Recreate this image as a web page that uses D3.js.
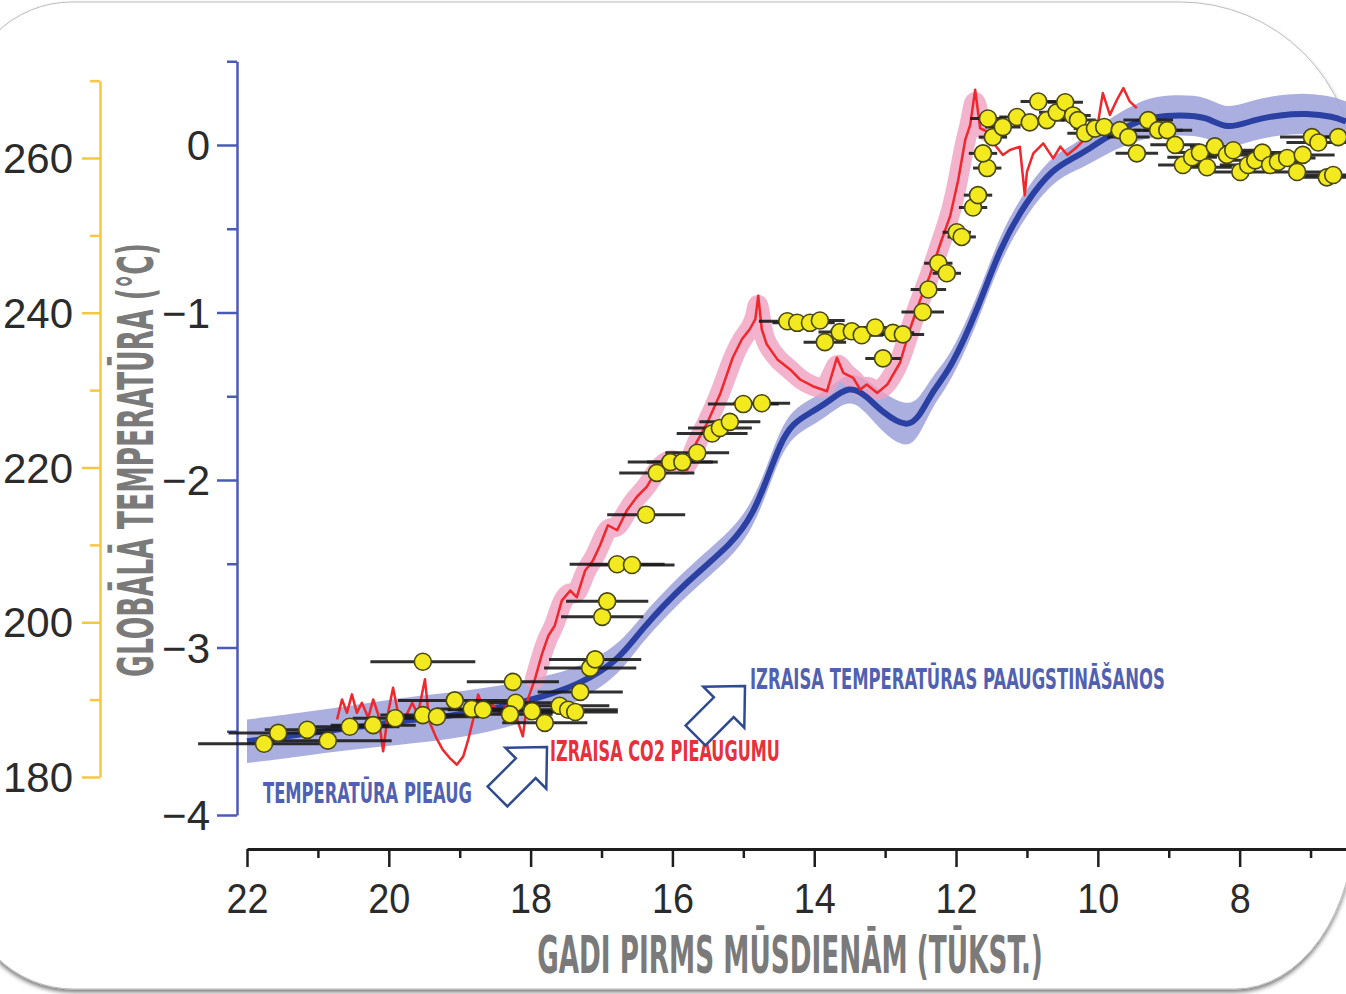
<!DOCTYPE html>
<html><head><meta charset="utf-8">
<script src="https://cdn.jsdelivr.net/npm/d3@7"></script>
<style>html,body{margin:0;padding:0;background:#fff;overflow:hidden}</style>
</head><body><svg id="c" width="1346" height="994"></svg>
<script>
// ---- DATA ----
// Global temperature stack (blue), thousands of years before present, °C, 1-sigma band
const blueAge = [22.0,21.25,20.55,19.84,19.14,18.43,17.87,17.30,16.74,16.46,15.79,15.15,14.86,14.67,14.48,14.30,14.06,13.82,13.50,13.26,13.03,12.69,12.51,12.32,12.08,11.70,11.38,11.0,10.63,10.35,10.15,9.87,9.50,9.22,8.84,8.46,8.18,7.81,7.43,7.05,6.68,6.50];
const blueTemp = [-3.56,-3.52,-3.48,-3.44,-3.41,-3.36,-3.30,-3.22,-3.07,-2.90,-2.60,-2.38,-2.20,-2.00,-1.78,-1.66,-1.60,-1.54,-1.43,-1.50,-1.60,-1.69,-1.62,-1.46,-1.34,-0.99,-0.61,-0.33,-0.14,-0.08,-0.03,0.05,0.13,0.17,0.18,0.17,0.09,0.15,0.18,0.19,0.17,0.14];
const blueSigma = [0.13,0.13,0.13,0.14,0.14,0.13,0.12,0.10,0.09,0.08,0.08,0.08,0.08,0.08,0.08,0.08,0.08,0.08,0.08,0.10,0.12,0.13,0.11,0.09,0.08,0.08,0.08,0.08,0.08,0.08,0.09,0.10,0.11,0.12,0.12,0.12,0.12,0.12,0.12,0.12,0.12,0.12];

// Antarctic temperature (red)
const redAge = [20.73,20.66,20.59,20.52,20.45,20.38,20.29,20.22,20.15,20.08,20.01,19.94,19.87,19.77,19.67,19.59,19.49,19.43,19.33,19.24,19.14,19.04,18.95,18.88,18.81,18.74,18.64,18.54,18.43,18.32,18.22,18.11,18.04,17.94,17.84,17.75,17.66,17.56,17.44,17.35,17.23,17.12,17.02,16.91,16.78,16.64,16.50,16.36,16.22,16.08,15.94,15.79,15.68,15.51,15.33,15.15,15.02,14.91,14.83,14.79,14.74,14.67,14.52,14.34,14.20,14.02,13.82,13.68,13.59,13.45,13.35,13.26,13.11,12.97,12.79,12.65,12.51,12.37,12.23,12.08,11.97,11.87,11.80,11.73,11.66,11.56,11.45,11.34,11.24,11.10,11.03,11.00,10.91,10.77,10.63,10.53,10.43,10.29,10.15,10.01,9.93,9.83,9.73,9.64,9.55,9.45];
const redTemp = [-3.43,-3.31,-3.39,-3.28,-3.39,-3.33,-3.42,-3.31,-3.40,-3.62,-3.39,-3.24,-3.39,-3.42,-3.33,-3.40,-3.19,-3.44,-3.54,-3.61,-3.66,-3.70,-3.65,-3.55,-3.43,-3.28,-3.39,-3.34,-3.39,-3.34,-3.39,-3.53,-3.31,-3.19,-3.04,-2.93,-2.87,-2.72,-2.66,-2.70,-2.54,-2.48,-2.39,-2.27,-2.30,-2.18,-2.10,-2.04,-1.94,-1.88,-1.88,-1.94,-1.79,-1.66,-1.49,-1.27,-1.16,-1.10,-1.04,-0.90,-1.10,-1.19,-1.28,-1.34,-1.40,-1.44,-1.47,-1.27,-1.36,-1.39,-1.46,-1.43,-1.48,-1.43,-1.30,-1.10,-0.93,-0.78,-0.60,-0.42,-0.21,0.03,0.12,0.33,0.10,0.08,0.00,-0.06,-0.03,-0.01,-0.30,-0.16,-0.05,0.01,-0.08,-0.01,-0.06,-0.01,0.05,0.10,0.31,0.18,0.27,0.34,0.26,0.22];

// CO2 (yellow dots), ppm, with age uncertainty (kyr)
const co2Age = [21.76,21.56,21.15,20.86,20.55,20.22,19.91,19.52,19.52,19.32,19.07,18.83,18.67,18.25,18.21,18.29,17.98,17.80,17.59,17.47,17.37,17.30,17.16,17.09,
16.99,16.92,16.78,16.57,16.37,16.22,16.03,15.86,15.65,15.44,15.33,15.19,15.00,14.74,
14.38,14.24,14.06,13.92,13.85,13.64,13.47,13.33,13.14,12.89,12.75,13.03,
12.47,12.39,12.25,12.13,11.99,11.92,11.76,11.69,11.56,11.62,11.48,11.55,11.34,11.14,10.96,10.84,10.72,10.58,10.46,10.35,10.28,10.18,10.04,9.91,9.69,9.57,9.45,9.29,9.15,9.02,8.91,8.80,8.67,8.56,8.46,8.35,8.18,8.09,7.99,7.88,7.78,7.68,7.57,7.46,7.33,7.19,7.11,6.98,6.89,6.77,6.68,6.61];
const co2Val = [184.3,185.7,186.1,184.7,186.5,186.7,187.6,194.9,188.0,187.8,189.9,188.8,188.7,192.3,189.6,188.1,188.5,187.0,189.2,188.7,188.4,191.0,194.1,195.2,
200.7,202.7,207.5,207.4,213.9,219.3,220.7,220.7,221.9,224.4,225.1,225.9,228.2,228.3,
238.9,238.7,238.7,239.0,236.2,237.5,237.6,237.1,238.1,237.4,237.2,234.1,
240.1,243.0,246.4,245.1,250.4,249.8,253.6,255.2,258.7,260.6,262.7,265.1,264.0,265.3,264.6,267.3,264.9,265.9,267.2,265.5,264.9,263.2,263.8,264.0,263.6,262.7,260.6,264.9,263.6,263.6,261.7,259.1,260.1,260.7,258.8,261.5,260.4,261.0,258.2,259.1,259.7,260.7,259.1,259.5,260.0,258.2,260.4,262.7,262.0,257.5,257.8,262.7];
const co2Err = [0.93,0.7,0.6,0.9,0.7,0.6,0.6,0.74,0.6,0.6,0.8,0.5,0.5,0.65,0.6,0.6,0.6,0.6,0.7,0.7,0.6,0.6,0.65,0.65,
0.58,0.58,0.67,0.6,0.55,0.53,0.6,0.5,0.45,0.5,0.45,0.43,0.5,0.4,
0.4,0.35,0.35,0.35,0.3,0.3,0.3,0.3,0.3,0.3,0.3,0.25,
0.3,0.25,0.2,0.2,0.2,0.2,0.2,0.2,0.2,0.2,0.2,0.25,0.25,0.25,0.25,0.25,0.25,0.25,0.25,0.25,0.25,0.25,0.3,0.3,0.3,0.3,0.3,0.35,0.35,0.35,0.35,0.35,0.35,0.35,0.35,0.35,0.4,0.4,0.4,0.4,0.4,0.4,0.4,0.4,0.4,0.4,0.45,0.45,0.45,0.45,0.45,0.45];

const ageTicks = [7,8,9,10,11,12,13,14,15,16,17,18,19,20,21,22];
const tempTicks = [-4,-3.5,-3,-2.5,-2,-1.5,-1,-0.5,0,0.5];
const co2Ticks = [180,190,200,210,220,230,240,250,260,270];

const yTitle = "GLOBĀLĀ TEMPERATŪRA (°C)";
const xTitle = "GADI PIRMS MŪSDIENĀM (TŪKST.)";
const noteTemp = "TEMPERATŪRA PIEAUG";
const noteCO2 = "IZRAISA CO2 PIEAUGUMU";
const noteRise = "IZRAISA TEMPERATŪRAS PAAUGSTINĀŠANOS";

// ---- CHART ----
const svg = d3.select("#c");
const defs = svg.append("defs");
const f = defs.append("filter").attr("id","sh").attr("x","-5%").attr("y","-5%").attr("width","110%").attr("height","112%");
f.append("feDropShadow").attr("dx",0).attr("dy",3).attr("stdDeviation",2).attr("flood-color","#000").attr("flood-opacity",0.5);

// card background
svg.append("path")
  .attr("d","M-36,110 A108,108 0 0 1 72,2 L1180,2 A175,175 0 0 1 1355,177 L1355,819 A120,170 0 0 1 1235,989 L74,989 A110,110 0 0 1 -36,879 Z")
  .attr("fill","#fff").attr("stroke","#bdbdbd").attr("stroke-width",1).attr("filter","url(#sh)");

const x = d3.scaleLinear().domain([22, 6.5]).range([247, 1346]);
const yT = d3.scaleLinear().domain([-4, 0.5]).range([815, 61.25]);
const yC = d3.scaleLinear().domain([180, 270]).range([777, 80.63]);

const blue = blueAge.map((a,i)=>({a, v:blueTemp[i], s:blueSigma[i]}));
const red = redAge.map((a,i)=>({a, v:redTemp[i]}));
const co2 = co2Age.map((a,i)=>({a, c:co2Val[i], e:co2Err[i]}));

const tickFont = "'Liberation Sans', Arial, Helvetica, sans-serif";
const condFont = "'DejaVu Sans Condensed', 'DejaVu Sans', sans-serif";

// helper: condensed text fitted to a target width with a horizontal scale
function fitText(g, str, width, opts) {
  const t = g.append("text").attr("font-family", condFont).attr("font-weight", opts.weight || "bold")
    .attr("font-size", opts.size).attr("fill", opts.fill).attr("text-anchor", opts.anchor || "start").text(str);
  const w = t.node().getComputedTextLength();
  t.attr("transform", `scale(${width / w},1)`);
  return t;
}

// yellow CO2 axis
const gC = svg.append("g").attr("transform","translate(100,0)")
  .call(d3.axisLeft(yC).tickValues(co2Ticks).tickSizeOuter(0).tickFormat(d => d%20===0 ? d : ""));
gC.attr("font-family", tickFont).attr("font-size", 42);
gC.select(".domain").attr("stroke","#f5c842").attr("stroke-width",2.5);
gC.selectAll(".tick line").attr("stroke","#f5c842").attr("stroke-width",2.5).attr("x2", d => d%20===0 ? -18 : -10);
gC.selectAll(".tick text").attr("x",-27).attr("dy","0.35em").attr("fill","#2b2b2b");

// blue temperature axis
const gT = svg.append("g").attr("transform","translate(237,0)")
  .call(d3.axisLeft(yT).tickValues(tempTicks).tickSizeOuter(0).tickFormat(d => Number.isInteger(d) ? d3.format("d")(d) : ""));
gT.attr("font-family", tickFont).attr("font-size", 42);
gT.select(".domain").attr("stroke","#4a5ab8").attr("stroke-width",2.5);
gT.selectAll(".tick line").attr("stroke","#4a5ab8").attr("stroke-width",2.5).attr("x2", d => Number.isInteger(d) ? -20 : -10);
gT.selectAll(".tick text").attr("x",-27).attr("dy","0.35em").attr("fill","#2b2b2b");

// x axis
const gX = svg.append("g").attr("transform","translate(0,849)")
  .call(d3.axisBottom(x).tickValues(ageTicks).tickSizeOuter(0).tickFormat(d => d%2===0 ? d : ""));
gX.attr("font-family", tickFont).attr("font-size", 42);
gX.select(".domain").attr("stroke","#1e1e1e").attr("stroke-width",3);
gX.selectAll(".tick line").attr("stroke","#1e1e1e").attr("stroke-width",2.5).attr("y2", d => d%2===0 ? 18 : 9);
gX.selectAll(".tick text").attr("y",64).attr("dy",0).attr("fill","#2b2b2b").attr("transform","scale(0.9,1)");

// titles
const gYT = svg.append("g").attr("transform","translate(153,460) rotate(-90)");
fitText(gYT, yTitle, 434, {size:50, fill:"#7a7a7a", anchor:"middle"});
const gXT = svg.append("g").attr("transform","translate(790,973)");
fitText(gXT, xTitle, 506, {size:52, fill:"#7a7a7a", anchor:"middle"});

// data layers
const plot = svg.append("g");
plot.append("path").datum(blue)
  .attr("d", d3.area().x(d=>x(d.a)).y0(d=>yT(d.v - d.s)).y1(d=>yT(d.v + d.s)).curve(d3.curveBasis))
  .attr("fill","#a2a6dc").attr("opacity",0.9);

plot.append("path").datum(red.filter(d => d.a <= 17.95 && d.a >= 11.5))
  .attr("d", d3.line().x(d=>x(d.a)).y(d=>yT(d.v)).curve(d3.curveBasis))
  .attr("fill","none").attr("stroke","#f0a0c0").attr("stroke-width",20)
  .attr("stroke-linecap","round").attr("stroke-linejoin","round").attr("opacity",0.8);

plot.append("path").datum(blue)
  .attr("d", d3.line().x(d=>x(d.a)).y(d=>yT(d.v)).curve(d3.curveBasis))
  .attr("fill","none").attr("stroke","#2a40a2").attr("stroke-width",6);

plot.append("path").datum(red)
  .attr("d", d3.line().x(d=>x(d.a)).y(d=>yT(d.v)))
  .attr("fill","none").attr("stroke","#f0282c").attr("stroke-width",2.5).attr("stroke-linejoin","round");

plot.selectAll("line.err").data(co2).join("line").attr("class","err")
  .attr("x1", d=>x(d.a + d.e)).attr("x2", d=>x(d.a - d.e))
  .attr("y1", d=>yC(d.c)).attr("y2", d=>yC(d.c))
  .attr("stroke","#1a1a1a").attr("stroke-width",3).attr("opacity",0.9);

plot.selectAll("circle.co2").data(co2).join("circle").attr("class","co2")
  .attr("cx", d=>x(d.a)).attr("cy", d=>yC(d.c)).attr("r",8.5)
  .attr("fill","#f2ea1e").attr("stroke","#4a4812").attr("stroke-width",1.6);

// annotations
const a1 = svg.append("g").attr("transform","translate(263,803)");
fitText(a1, noteTemp, 209, {size:29, fill:"#5061b2"});
const a2 = svg.append("g").attr("transform","translate(550,761)");
fitText(a2, noteCO2, 230, {size:29, fill:"#e8303a"});
const a3 = svg.append("g").attr("transform","translate(750,689)");
fitText(a3, noteRise, 415, {size:29, fill:"#5061b2"});

// block arrows
const arrowShape = "M0,0 L-30,-29 L-30,-14 L-70,-14 L-70,14 L-30,14 L-30,29 Z";
[[547,747],[745,686]].forEach(([tx,ty]) => {
  svg.append("path").attr("d", arrowShape)
    .attr("transform", `translate(${tx},${ty}) rotate(-45)`)
    .attr("fill","#fff").attr("stroke","#2f4b8e").attr("stroke-width",2.5).attr("stroke-linejoin","miter");
});
</script>
</body></html>
